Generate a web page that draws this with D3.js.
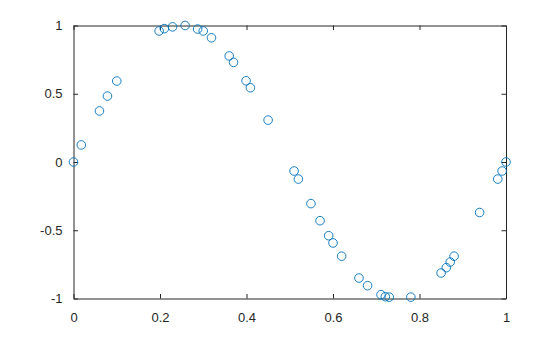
<!DOCTYPE html>
<html>
<head>
<meta charset="utf-8">
<script src="https://cdn.jsdelivr.net/npm/d3@7"></script>
<style>
  body { margin: 0; background: #fff; }
  svg { display: block; }
</style>
</head>
<body>
<div id="chart"></div>
<script>
// scatter points
const xValues = [0, 0.018, 0.06, 0.0785, 0.10, 0.198, 0.21, 0.229, 0.258, 0.287, 0.30, 0.319,
    0.36, 0.37, 0.399, 0.409, 0.45, 0.51, 0.52, 0.549, 0.57, 0.59, 0.60, 0.62, 0.66, 0.68,
    0.711, 0.721, 0.73, 0.78, 0.85, 0.862, 0.871, 0.88, 0.939, 0.981, 0.991, 1.0];
const yValues = [0, 0.125, 0.374, 0.483, 0.593, 0.96, 0.977, 0.99, 1.0, 0.974, 0.96, 0.91,
    0.777, 0.73, 0.595, 0.544, 0.307, -0.066, -0.125, -0.305, -0.43, -0.54, -0.593, -0.69, -0.85, -0.906,
    -0.972, -0.987, -0.99, -0.99, -0.813, -0.774, -0.733, -0.69, -0.37, -0.125, -0.066, 0];

const xTicks = [0, 0.2, 0.4, 0.6, 0.8, 1];
const yTicks = [-1, -0.5, 0, 0.5, 1];

const width = 560, height = 337;
const margin = { top: 25.5, right: 54, bottom: 38.5, left: 73.5 };
const axisColor = "#262626";

const points = xValues.map((x, i) => ({ x: x, y: yValues[i] }));

const svg = d3.select("#chart")
    .append("svg")
    .attr("width", width)
    .attr("height", height);

const x = d3.scaleLinear()
    .domain([0, 1])
    .range([margin.left, width - margin.right]);

const y = d3.scaleLinear()
    .domain([-1, 1])
    .range([height - margin.bottom, margin.top]);

const fmt = d => String(d);

// Bottom axis
const bottom = svg.append("g")
    .attr("transform", `translate(0, ${height - margin.bottom})`)
    .call(d3.axisBottom(x).tickValues(xTicks).tickFormat(fmt).tickSizeInner(-4.5).tickSizeOuter(0).tickPadding(14));

// Top axis
svg.append("g")
    .attr("transform", `translate(0, ${margin.top})`)
    .call(d3.axisTop(x).tickValues(xTicks).tickFormat("").tickSizeInner(-4.5).tickSizeOuter(0));

// Left axis
svg.append("g")
    .attr("transform", `translate(${margin.left}, 0)`)
    .call(d3.axisLeft(y).tickValues(yTicks).tickFormat(fmt).tickSizeInner(-4.5).tickSizeOuter(0).tickPadding(11));

// Right axis
svg.append("g")
    .attr("transform", `translate(${width - margin.right}, 0)`)
    .call(d3.axisRight(y).tickValues(yTicks).tickFormat("").tickSizeInner(-4.5).tickSizeOuter(0));

svg.selectAll(".domain").attr("stroke", axisColor).attr("stroke-width", 1);
svg.selectAll(".tick line").attr("stroke", axisColor).attr("stroke-width", 1);
svg.selectAll(".tick text")
    .attr("fill", axisColor)
    .attr("font-family", "'Liberation Sans', Arial, sans-serif")
    .attr("font-size", "13px");

// Markers
svg.selectAll("circle.pt")
    .data(points)
    .enter()
    .append("circle")
    .attr("class", "pt")
    .attr("cx", d => x(d.x))
    .attr("cy", d => y(d.y))
    .attr("r", 4.3)
    .attr("fill", "none")
    .attr("stroke", "#0072BD")
    .attr("stroke-width", 0.9);
</script>
</body>
</html>
